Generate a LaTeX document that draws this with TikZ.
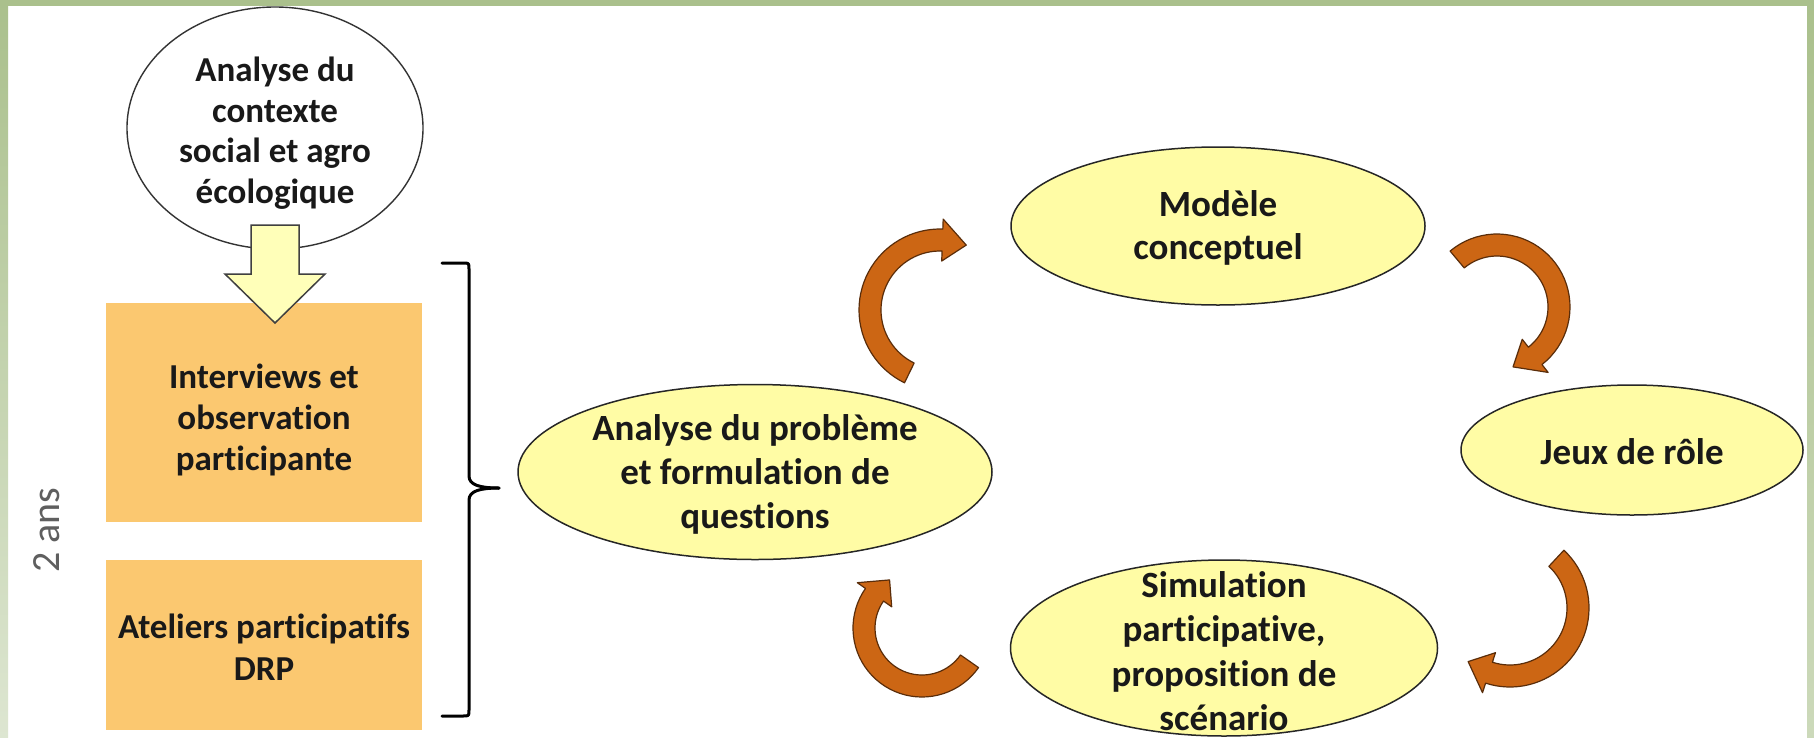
\documentclass[tikz,border=0pt]{standalone}
\usepackage{fontspec}
\setmainfont{Carlito}[Ligatures={NoCommon}]
\usetikzlibrary{shapes.geometric}
\definecolor{framegreen}{RGB}{170,192,140}
\definecolor{boxorange}{RGB}{251,200,112}
\definecolor{ellyellow}{RGB}{255,252,165}
\definecolor{arroworange}{RGB}{204,102,20}
\definecolor{arrowedge}{RGB}{90,45,10}
\definecolor{paleyellow}{RGB}{255,255,185}
\definecolor{labelgray}{RGB}{95,95,95}
\tikzset{
 ellnode/.style={ellipse, draw=black!85, line width=1.5pt, fill=ellyellow, inner sep=0pt},
 boxnode/.style={rectangle, fill=boxorange, inner sep=0pt},
 smalltxt/.style={align=center, font=\fontsize{35}{41}\selectfont\bfseries, text=black!90, inner sep=0pt},
 bigtxt/.style={align=center, font=\fontsize{37}{44}\selectfont\bfseries, text=black!90, inner sep=0pt},
 cyc/.style={fill=arroworange, draw=arrowedge, line width=1.2pt, line join=round},
 brk/.style={draw=black, line width=3pt, line cap=round, line join=round},
}
% cx cy R a1 a2 tipangle
\newcommand\cyclearrow[6]{%
 \pgfmathsetmacro\cro{#3+11}\pgfmathsetmacro\cri{#3-11}%
 \pgfmathsetmacro\cwo{#3+21}\pgfmathsetmacro\cwi{#3-21}%
 \filldraw[cyc] plot[domain=#4:#5,samples=40] ({#1+\cro*cos(\x)},{#2+\cro*sin(\x)})
  -- ({#1+\cwo*cos(#5)},{#2+\cwo*sin(#5)})
  -- ({#1+#3*cos(#6)},{#2+#3*sin(#6)})
  -- ({#1+\cwi*cos(#5)},{#2+\cwi*sin(#5)})
  -- plot[domain=#4:#5,samples=40] ({#1+\cri*cos(#4+#5-\x)},{#2+\cri*sin(#4+#5-\x)}) -- cycle;
}
\begin{document}
\begin{tikzpicture}[x=1pt,y=-1pt]
\useasboundingbox (0,0) rectangle (1814,737);
\fill[white] (0,0) rectangle (1814,737);
% frame
\fill[framegreen] (0,0) rectangle (1814,6);
\shade[top color=framegreen, bottom color=framegreen!40!white] (0,0) rectangle (8,737);
\shade[top color=framegreen, bottom color=framegreen!60!white] (1807,0) rectangle (1814,737);

% left column
\node[ellipse, draw=black!80, line width=1.4pt, fill=white, inner sep=0pt,
      minimum width=296pt, minimum height=242pt] (ctx) at (275,128) {};
\node[smalltxt, font=\fontsize{35}{40.5}\selectfont\bfseries] (ctxT) at (275,133)
  {Analyse du\\contexte\\social et agro\\écologique};
\node[boxnode, minimum width=316pt, minimum height=219pt] (box1) at (264,412.5) {};
\node[smalltxt] (box1T) at (264,420) {Interviews et\\observation\\participante};
\node[boxnode, minimum width=316pt, minimum height=170pt] (box2) at (264,645) {};
\node[smalltxt, font=\fontsize{35}{42}\selectfont\bfseries] (box2T) at (264,647) {Ateliers participatifs\\DRP};
\draw[fill=paleyellow, draw=black!75, line width=1.5pt, line join=miter]
  (251,225) -- (299,225) -- (299,274) -- (325,274) -- (275,323) -- (225,274) -- (251,274) -- cycle;
\node[rotate=90, font=\fontsize{40}{48}\selectfont, text=labelgray, inner sep=0pt] (dur) at (47,530) {2 ans};

% bracket
\coordinate (brtop) at (442,263);
\coordinate (brtip) at (499,488);
\coordinate (brbot) at (442,716);
\draw[brk] (brtop) -- (463,263) .. controls (469,263) .. (469,269) -- (469,476)
  .. controls (469,485) and (480,488) .. (brtip);
\draw[brk] (brtip) .. controls (480,488) and (469,491) .. (469,500) -- (469,710)
  .. controls (469,716) .. (463,716) -- (brbot);

% cycle
\node[ellnode, minimum width=474pt, minimum height=175pt] (ana) at (755,472) {};
\node[bigtxt] (anaT) at (755,474) {Analyse du problème\\et formulation de\\questions};
\node[ellnode, minimum width=414pt, minimum height=158pt] (mod) at (1218,226) {};
\node[bigtxt, font=\fontsize{37}{43}\selectfont\bfseries] (modT) at (1218,228) {Modèle\\conceptuel};
\node[ellnode, minimum width=342pt, minimum height=130pt] (jeu) at (1632,450) {};
\node[bigtxt] (jeuT) at (1632,452) {Jeux de rôle};
\node[ellnode, minimum width=427pt, minimum height=176pt] (sim) at (1224,648) {};
\node[bigtxt, font=\fontsize{37}{44.5}\selectfont\bfseries] (simT) at (1224,651)
  {Simulation\\participative,\\proposition de\\scénario};

\cyclearrow{940}{310}{70}{116}{272}{292}
\cyclearrow{1497}{307}{62}{-130}{52}{75}
\cyclearrow{1510}{608}{68}{-47}{108}{128}
\cyclearrow{922}{628}{58}{35}{215}{236}
\end{tikzpicture}
\end{document}
